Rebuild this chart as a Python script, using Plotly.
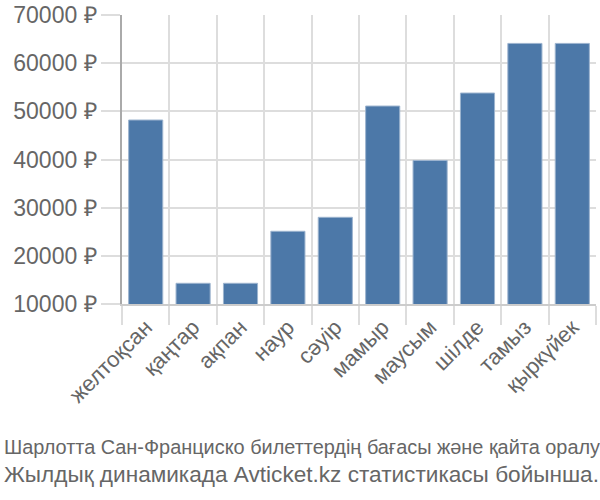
import plotly.graph_objects as go

months = ["желтоқсан", "қаңтар", "ақпан", "наур", "сәуір", "мамыр", "маусым", "шілде", "тамыз", "қыркүйек"]
prices = [48200, 14300, 14300, 25100, 28000, 51100, 39800, 53800, 64100, 64100]
y_ticks = [10000, 20000, 30000, 40000, 50000, 60000, 70000]
y_tick_text = [f"{v} ₽" for v in y_ticks]
caption = ["Шарлотта Сан-Франциско билеттердің бағасы және қайта оралу",
           "Жылдық динамикада Avticket.kz статистикасы бойынша."]
caption_sizes = [19.9, 22.6]

W, H = 600, 500
ml, mr, mt, mb = 122, 4, 15, 196
pw = W - ml - mr
ph = H - mt - mb

fig = go.Figure(go.Bar(
    x=months, y=prices,
    marker=dict(color="#4c78a8", line=dict(color="#9db4cf", width=1)),
))

fig.update_layout(
    width=W, height=H,
    margin=dict(l=ml, r=mr, t=mt, b=mb, autoexpand=False),
    plot_bgcolor="white", paper_bgcolor="white",
    bargap=0.28,
    showlegend=False,
    font=dict(family="Liberation Sans, Arial, sans-serif", size=22, color="#666666"),
)
fig.update_xaxes(
    type="category", tickson="boundaries", automargin=False,
    showgrid=True, gridcolor="#dddddd", gridwidth=1.5,
    ticks="outside", ticklen=19, tickcolor="#dddddd", tickwidth=1.5,
    tickangle=-45, tickfont=dict(size=22, color="#666666"),
    showline=True, linecolor="#cccccc", linewidth=1.5,
)
fig.update_yaxes(
    range=[10000, 70000], automargin=False,
    tickvals=y_ticks, ticktext=y_tick_text,
    showgrid=True, gridcolor="#dddddd", gridwidth=1.5,
    ticks="outside", ticklen=19, tickcolor="#dddddd", tickwidth=1.5,
    tickfont=dict(size=23, color="#666666"),
    showline=True, linecolor="#aaaaaa", linewidth=1.5,
    zeroline=False,
)

for i, line in enumerate(caption):
    fig.add_annotation(
        text=line, xref="paper", yref="paper",
        x=(2 - ml) / pw, xanchor="left",
        y=-(447 - (H - mb)) / ph - i * 27 / ph, yanchor="middle",
        showarrow=False,
        font=dict(family="Liberation Sans, Arial, sans-serif", size=caption_sizes[i], color="#666666"),
    )

fig.write_html("out.html")
